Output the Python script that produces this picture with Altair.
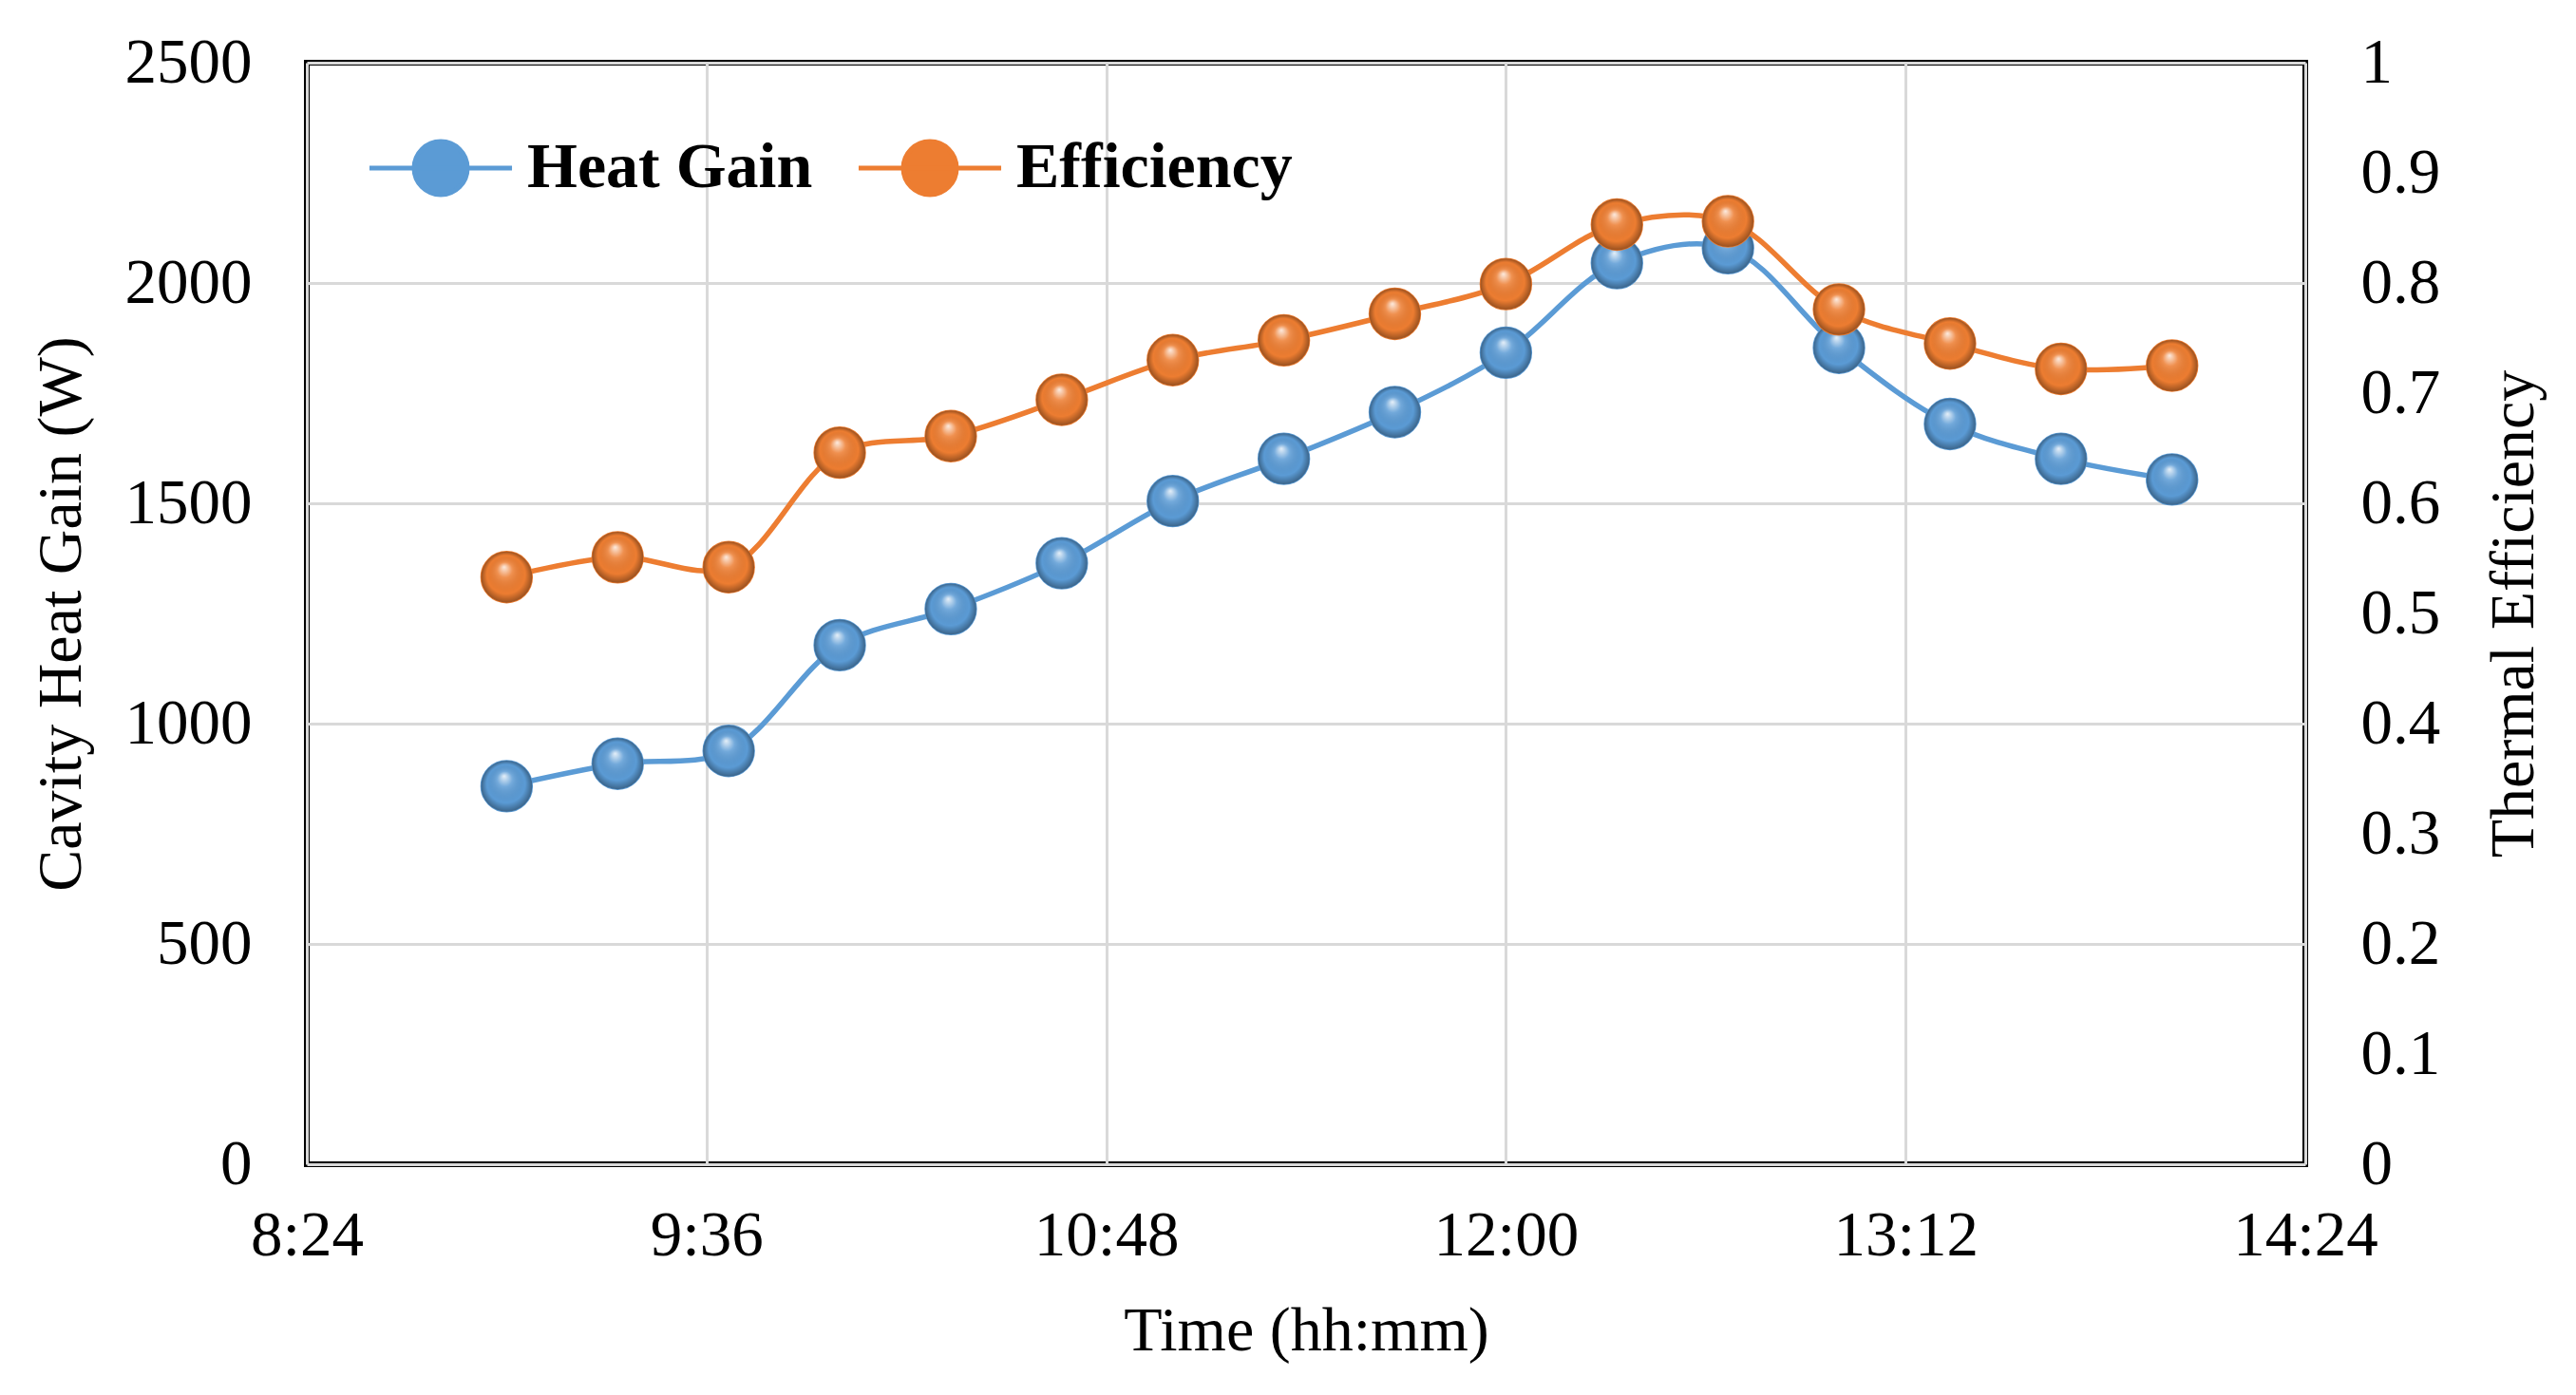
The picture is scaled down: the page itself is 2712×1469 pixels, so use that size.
import altair as alt
import pandas as pd

# ---- data ----
TIMES = ["9:00", "9:20", "9:40", "10:00", "10:20", "10:40", "11:00", "11:20",
         "11:40", "12:00", "12:20", "12:40", "13:00", "13:20", "13:40", "14:00"]
HEAT_GAIN = [858, 909, 938, 1178, 1260, 1364, 1505, 1601,
             1707, 1842, 2045, 2079, 1853, 1680, 1601, 1554]
EFFICIENCY = [0.533, 0.551, 0.542, 0.646, 0.661, 0.694, 0.730, 0.748,
              0.772, 0.799, 0.853, 0.856, 0.776, 0.745, 0.722, 0.725]
SERIES = ["Heat Gain", "Efficiency"]
COLORS = ["#5b9bd5", "#ed7d31"]
X_TICKS = ["8:24", "9:36", "10:48", "12:00", "13:12", "14:24"]
Y_LEFT_TICKS = [0, 500, 1000, 1500, 2000, 2500]
Y_RIGHT_TICKS = [0, 0.1, 0.2, 0.3, 0.4, 0.5, 0.6, 0.7, 0.8, 0.9, 1]

FONT = "Liberation Serif"


def iso(t):
    h, m = t.split(":")
    return f"2020-01-01T{int(h):02d}:{int(m):02d}:00"


def dt(t):
    h, m = t.split(":")
    return alt.DateTime(year=2020, month=1, date=1, hours=int(h), minutes=int(m))


rows = []
for t, v in zip(TIMES, HEAT_GAIN):
    rows.append({"t": iso(t), "value": v, "series": SERIES[0]})
for t, v in zip(TIMES, EFFICIENCY):
    rows.append({"t": iso(t), "value": v, "series": SERIES[1]})
df = pd.DataFrame(rows)

cs = alt.Scale(domain=SERIES, range=COLORS)

LEG_PATH = "M-2.68,0L2.68,0M1,0A1,1,0,1,1,-1,0A1,1,0,1,1,1,0Z"
legend = alt.Legend(
    title=None, orient="none", direction="horizontal",
    legendX=107, legendY=77, padding=0,
    symbolType=LEG_PATH, symbolSize=3136, symbolStrokeWidth=5,
    labelFont=FONT, labelFontSize=68, labelFontWeight="bold", labelColor="black",
    labelOffset=57, columnPadding=37, labelLimit=1000,
)

x_enc = alt.X(
    "t:T",
    scale=alt.Scale(domain=[dt(X_TICKS[0]), dt(X_TICKS[-1])]),
    axis=alt.Axis(values=[dt(t) for t in X_TICKS], format="%-H:%M",
                  title="Time (hh:mm)", grid=True, labelPadding=42,
                  labelFlush=False, labelOverlap=False,
                  titleX=1052, titleY=175, titleBaseline="middle", titleAlign="center"),
)

base = alt.Chart(df).encode(x=x_enc)

shine = {
    "gradient": "radial",
    "x1": 0.45, "y1": 0.3, "r1": 0,
    "x2": 0.5, "y2": 0.5, "r2": 0.5,
    "stops": [
        {"offset": 0, "color": "rgba(255,255,255,0.85)"},
        {"offset": 0.3, "color": "rgba(255,255,255,0.15)"},
        {"offset": 0.75, "color": "rgba(0,0,0,0)"},
        {"offset": 1, "color": "rgba(0,0,0,0.35)"},
    ],
}


def series_layer(idx, y_enc):
    name = SERIES[idx]
    b = base.transform_filter(alt.datum.series == name)
    line = b.mark_line(strokeWidth=5.5, interpolate="catmull-rom",
                       color=COLORS[idx]).encode(y=y_enc)
    pts = b.mark_point(filled=True, size=2900, strokeWidth=1.5, opacity=1).encode(
        y=y_enc,
        fill=alt.Fill("series:N", scale=cs, legend=legend),
        stroke=alt.Stroke("series:N", scale=cs, legend=legend))
    gloss = b.mark_point(filled=True, size=2900, opacity=1, fill=shine,
                         strokeOpacity=0).encode(y=y_enc)
    return alt.layer(line, pts, gloss)


y_left = alt.Y(
    "value:Q",
    scale=alt.Scale(domain=[0, 2500]),
    axis=alt.Axis(values=Y_LEFT_TICKS, format="d", title="Cavity Heat Gain (W)", grid=True,
                  orient="left", labelPadding=58, labelFlush=False,
                  titleAngle=270, titleX=-259, titleY=580,
                  titleBaseline="middle", titleAlign="center"),
)
y_right = alt.Y(
    "value:Q",
    scale=alt.Scale(domain=[0, 1]),
    axis=alt.Axis(values=Y_RIGHT_TICKS, format="~g", title="Thermal Efficiency", grid=False,
                  orient="right", labelPadding=58, labelFlush=False,
                  titleAngle=270, titleX=219, titleY=580,
                  titleBaseline="middle", titleAlign="center"),
)

chart = (
    alt.layer(series_layer(0, y_left), series_layer(1, y_right))
    .resolve_scale(y="independent")
    .properties(
        width=2104, height=1160,
        padding={"left": 315, "top": 58, "right": 260, "bottom": 220},
        autosize=alt.AutoSizeParams(type="none"),
    )
    .configure_view(stroke="black", strokeWidth=6)
    .configure_axis(
        labelFont=FONT, labelFontSize=67, labelColor="black",
        titleFont=FONT, titleFontSize=66, titleColor="black", titleFontWeight="normal",
        domain=False, ticks=False, tickSize=0,
        gridColor="#d9d9d9", gridWidth=3,
    )
)

chart.save("out.html", embed_options={"renderer": "svg", "actions": False})
